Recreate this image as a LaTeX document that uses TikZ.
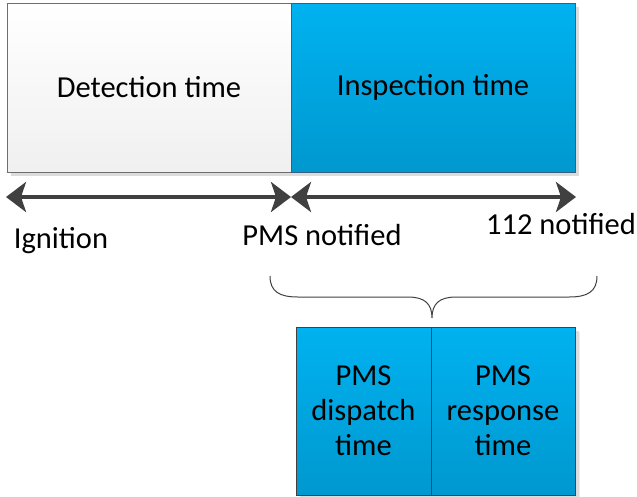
\documentclass[tikz,border=0pt]{standalone}
\usepackage{fontspec}
\setmainfont{Carlito}
\usetikzlibrary{arrows.meta,shadows}
\definecolor{boxline}{HTML}{6E6E6E}
\definecolor{blueline}{HTML}{35607F}
\definecolor{bluetop}{HTML}{00B2F0}
\definecolor{bluebot}{HTML}{0098CF}
\definecolor{arrowgray}{HTML}{404040}
\definecolor{shadowgray}{HTML}{DCDCDC}
\tikzset{
  phase/.style={rectangle, inner sep=0pt, align=center, line width=0.8pt,
    font=\fontsize{30.5}{35}\selectfont,
    drop shadow={shadow xshift=4pt, shadow yshift=-4pt, fill=shadowgray, opacity=1}},
  greybox/.style={phase, draw=boxline, top color=white, bottom color=black!6},
  bluebox/.style={phase, draw=blueline, top color=bluetop, bottom color=bluebot},
  label/.style={inner sep=0pt, font=\fontsize{30.5}{35}\selectfont},
  span/.style={{Stealth[length=20pt,width=30pt,inset=5pt]}-{Stealth[length=20pt,width=30pt,inset=5pt]},
    line width=4pt, draw=arrowgray, shorten <=-1pt, shorten >=-1pt},
  bracket/.style={draw=arrowgray, line width=1pt}
}
\begin{document}
\begin{tikzpicture}[x=1pt,y=-1pt]
\useasboundingbox (0,0) rectangle (637,496);
% upper timeline boxes
\node[greybox, minimum width=284pt, minimum height=169pt] (det) at (149,87.5) {Detection time};
\node[bluebox, minimum width=284pt, minimum height=169pt] (insp) at (433,87.5) {Inspection time};
% arrow end points
\coordinate (ig) at (7,197);
\coordinate (pmsL) at (290,197);
\coordinate (pmsR) at (292,197);
\coordinate (n112) at (575,197);
\draw[span] (ig) -- (pmsL);
\draw[span] (pmsR) -- (n112);
% event labels
\node[label] (tig) at (61,241) {Ignition};
\node[label] (tpms) at (322,235) {PMS notified};
\node[label] (t112) at (561,224) {112 notified};
% brace gathering the inspection span
\coordinate (bl) at (270,276);
\coordinate (tip) at (432,318);
\coordinate (br) at (597,276);
\draw[bracket] (bl) .. controls (270,292) and (280,297) .. (298,297) -- (408,297)
  .. controls (425,297) and (432,304) .. (tip)
  .. controls (432,304) and (439,297) .. (456,297) -- (569,297)
  .. controls (587,297) and (597,292) .. (br);
% lower breakdown boxes
\node[bluebox, draw=arrowgray, minimum width=135pt, minimum height=168pt] (disp) at (363.5,411) {PMS\\dispatch\\time};
\node[bluebox, draw=arrowgray, minimum width=144pt, minimum height=168pt, drop shadow={shadow xshift=5pt, shadow yshift=-5pt, fill=shadowgray}] (resp) at (503,411) {PMS\\response\\time};
\end{tikzpicture}
\end{document}
